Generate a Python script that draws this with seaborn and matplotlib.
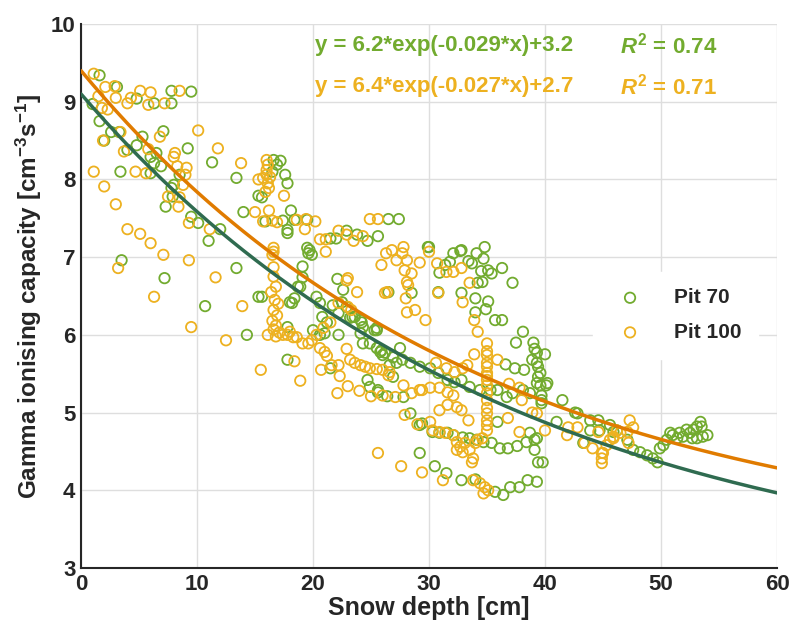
import numpy as np
import pandas as pd
import seaborn as sns
import matplotlib.pyplot as plt

# ---- data ----
pit70_depth = [1.6, 3.1, 7.8, 9.5, 4.8, 6.3, 7.8, 1.0, 1.6, 2.6, 3.3, 7.1, 5.3, 2.0, 4.8, 4.0, 6.5, 9.2, 6.0, 6.3,
               6.9, 3.4, 6.0, 8.5, 11.3, 13.4, 15.3, 8.0, 7.8, 7.9, 7.3, 9.5, 10.1, 12.0, 11.0, 14.0, 3.5, 7.2, 13.4,
               10.7, 14.3, 15.3,
               16.6, 17.2, 16.9, 17.6, 17.8, 16.5, 15.6, 18.1, 15.9, 17.4, 18.4, 19.5, 17.8, 17.8, 21.5, 22.0, 22.9,
               23.8, 24.7, 25.6, 26.5, 27.4, 19.5, 19.7, 19.9, 19.6, 19.1, 19.1, 22.1, 22.6, 15.6, 29.9, 28.5, 26.5,
               18.4, 18.7, 18.2, 20.3, 20.6, 20.8, 21.2, 21.7, 22.2, 22.5, 22.9, 23.2, 23.6, 24.1, 24.3, 25.3, 25.5,
               18.0, 18.9, 17.8, 20.0, 20.6, 21.0, 23.4, 24.2, 24.1, 24.3, 24.9, 25.5, 25.9, 26.2, 26.9, 27.2, 17.8,
               21.5, 24.7, 24.9, 25.6,
               30.0, 32.1, 32.7, 32.8, 34.1, 34.8, 31.4, 31.8, 30.9, 33.4, 33.7, 34.7, 34.5, 35.1, 35.4, 36.3, 34.2,
               34.6, 37.2, 30.8, 32.8, 34.0, 35.1, 34.9, 34.0, 35.7, 36.3, 38.1, 37.5, 39.0, 39.1, 40.0, 39.3, 38.9,
               39.3, 39.4, 39.6, 39.4, 40.2, 39.3, 36.6, 37.4, 38.2,
               22.2, 26.6, 28.4, 29.2, 29.2, 25.5, 26.0, 26.9, 27.7, 28.4, 29.2, 26.4, 27.8, 25.6,
               25.8, 27.5, 30.1, 30.8, 31.6, 32.2, 32.8, 33.5, 34.4, 35.3, 35.9, 36.7, 37.2, 38.1,
               38.7, 39.7, 39.7, 39.7, 40.1, 41.5, 42.8, 43.9, 44.7, 45.6, 46.2, 29.4, 30.3, 30.9, 31.6, 32.1, 32.9,
               33.5, 34.1, 34.7, 35.4, 36.1, 36.8, 37.6, 38.4, 39.1, 39.3, 39.1, 39.8, 39.4, 35.9, 38.7, 30.5, 31.5,
               32.8, 34.0, 35.7, 36.4, 37.0, 37.8, 38.5, 39.3, 39.6,
               49.9, 50.2, 50.5, 50.8, 51.0, 51.4, 51.6, 51.9, 52.2, 52.5, 52.8, 53.1, 53.4, 53.5, 54.0, 53.6, 53.1,
               52.7, 48.2, 48.8, 49.3, 49.7, 47.6, 47.1, 45.9, 44.6, 43.9, 43.3, 42.6, 41.0]
pit70_gamma = [9.34, 9.19, 9.14, 9.13, 9.04, 8.98, 8.98, 8.97, 8.75, 8.61, 8.61, 8.62, 8.55, 8.50, 8.44, 8.38, 8.34,
               8.40, 8.29, 8.21, 8.17, 8.10, 8.08, 8.06, 8.22, 8.02, 7.79, 7.93, 7.89, 7.78, 7.65, 7.52, 7.44, 7.36,
               7.21, 7.58, 6.96, 6.73, 6.86,
               6.37, 6.00, 6.49,
               8.25, 8.24, 8.19, 8.06, 7.95, 8.10, 7.77, 7.60, 7.46, 7.47, 7.48, 7.48, 7.35, 7.31, 7.24, 7.24, 7.34,
               7.29, 7.21, 7.27, 7.49, 7.49, 7.12, 7.09, 7.03, 7.05, 6.88, 6.74, 6.72, 6.58, 6.49, 7.13, 6.54, 6.55,
               6.47, 6.62, 6.41, 6.49, 6.41, 6.23, 6.16, 6.38, 6.28, 6.42, 6.36, 6.22, 6.23, 6.19, 6.10, 6.06, 6.09,
               6.42, 6.62, 6.10, 6.06, 6.00, 6.02, 6.23, 6.16, 6.02, 5.89, 5.89, 6.06, 5.80, 5.77, 5.46, 5.64, 5.68,
               5.57, 5.42, 5.33, 5.29,
               7.13, 7.05, 7.08, 7.09, 7.05, 7.13, 6.90, 6.94, 6.80, 6.95, 6.92, 6.98, 6.82, 6.83, 6.79, 6.86, 6.67,
               6.68, 6.67, 6.55, 6.54, 6.47, 6.43, 6.33, 6.29, 6.19, 6.19, 6.04, 5.90, 5.90, 5.82, 5.75, 5.77, 5.68,
               5.64, 5.59, 5.51, 5.46, 5.38, 5.38, 5.62, 5.57, 5.55,
               6.00, 5.61, 4.99, 4.84, 4.48, 5.83, 5.74, 5.71, 5.68, 5.64, 5.59, 5.21, 5.20, 5.26,
               5.78, 5.83, 5.57, 5.51, 5.42, 5.39, 5.42, 5.33, 5.29, 5.29, 5.29, 5.20, 5.25, 5.29,
               5.25, 5.22, 5.16, 5.12, 5.35, 5.16, 4.99, 4.90, 4.77, 4.84, 4.77, 4.86, 4.75, 4.74, 4.74, 4.71, 4.68,
               4.67, 4.65, 4.62, 4.61, 4.54, 4.54, 4.57, 4.62, 4.65, 4.67, 4.52, 4.36, 4.36, 4.88, 4.74, 4.31, 4.22,
               4.13, 4.14, 3.98, 3.94, 4.04, 4.04, 4.13, 4.11, 5.35,
               4.54, 4.58, 4.65, 4.74, 4.71, 4.67, 4.74, 4.69, 4.78, 4.74, 4.78, 4.82, 4.88, 4.82, 4.71, 4.69, 4.67,
               4.67, 4.49, 4.45, 4.41, 4.36, 4.52, 4.65, 4.75, 4.90, 4.77, 4.61, 5.00, 4.88]

pit100_depth = [1.1, 2.1, 2.9, 5.1, 6.0, 8.5, 1.5, 3.0, 4.0, 4.3, 5.8, 7.2, 1.8, 2.3, 10.1, 6.8, 11.8, 3.4, 1.9, 3.7,
                5.8, 8.1, 8.0, 13.8, 8.3, 9.1, 9.0, 1.1, 4.7, 5.6, 8.8, 2.0, 7.5, 8.5, 8.4, 3.0, 9.3, 11.1, 15.0, 4.0,
                5.1, 6.0, 7.1, 3.2, 9.3, 11.6, 15.3,
                6.3, 13.9, 9.5, 12.5, 15.5,
                16.0, 16.1, 16.0, 16.0, 15.7, 16.3, 16.1, 16.2, 15.9, 17.5, 16.2, 15.7, 16.5, 16.9, 18.6, 19.4, 20.2,
                19.3, 20.6, 21.1, 22.2, 22.9, 23.5, 24.3, 24.9, 25.6, 16.6, 16.6, 16.5, 16.6, 21.1, 23.0, 23.8,
                16.6, 16.8, 16.4, 16.7, 17.0, 16.6, 16.9, 16.5, 16.8, 16.6, 17.1, 16.8,
                26.3, 26.8, 27.8, 27.7, 27.2, 28.1, 25.9, 27.9, 28.5, 29.2, 28.1, 28.2, 28.0, 28.1, 28.8, 29.7, 26.2,
                26.4,
                30.0, 30.7, 31.5, 32.1, 32.8, 33.5, 30.8, 32.9, 33.9, 34.2, 35.0, 35.0, 35.0, 35.0, 35.0, 35.0, 35.0,
                35.0, 35.0, 33.9, 35.9, 33.3, 32.9, 31.5, 32.2, 36.9, 30.6,
                29.4, 30.1, 30.9, 31.6, 32.1, 31.6, 32.4, 30.9, 32.8, 35.0, 35.0, 35.0, 35.0, 35.0, 35.0, 35.0, 38.0,
                37.8, 39.3, 40.0, 41.9, 42.8, 44.1, 44.9, 44.9, 44.9, 45.9, 37.8, 36.8, 33.4, 30.1, 30.3, 30.9, 31.4,
                32.1, 32.4, 32.7, 32.4, 32.9, 33.5, 34.0, 34.2, 34.6, 33.1, 33.7, 33.8, 29.4, 31.2, 33.8, 34.4, 34.8,
                35.1, 34.7,
                16.1, 18.9, 18.4, 18.6, 19.1, 19.6, 19.9, 20.3, 20.6, 21.0, 21.2, 20.7, 21.6, 22.2, 22.3, 22.9, 23.2,
                23.6, 24.1, 24.5, 24.9, 25.5, 26.0, 26.6, 22.1, 23.0, 24.0, 25.0, 26.0, 27.1, 27.8, 28.5, 29.2, 27.9,
                29.0, 25.6, 27.6,
                17.8, 18.3, 17.4, 18.0, 20.9, 21.5, 22.2, 23.0, 23.3, 26.5, 22.9,
                47.3, 47.6, 47.1, 46.5, 45.9, 45.6, 45.3, 45.0, 46.2, 47.2, 43.4, 44.6, 42.0, 38.9]
pit100_gamma = [9.36, 9.19, 9.20, 9.14, 9.12, 9.14, 9.07, 9.05, 8.98, 9.05, 8.96, 8.98, 8.92, 8.90, 8.63, 8.55, 8.40,
                8.61, 8.50, 8.36, 8.39, 8.34, 8.29, 8.21, 8.17, 8.15, 8.06, 8.10, 8.10, 8.08, 7.93, 7.91, 7.78, 7.77,
                7.65, 7.68, 7.44, 7.36, 7.58, 7.36, 7.30, 7.18, 7.03, 6.86, 6.96, 6.74, 8.00,
                6.49, 6.37, 6.10, 5.93, 5.55,
                8.25, 8.19, 8.12, 8.06, 8.02, 8.03, 7.95, 7.89, 7.84, 7.79, 7.60, 7.46, 7.47, 7.45, 7.48, 7.49, 7.46,
                7.36, 7.23, 7.23, 7.34, 7.29, 7.21, 7.27, 7.49, 7.49, 7.12, 7.07, 7.03, 6.87, 7.07, 6.73, 6.55,
                6.75, 6.62, 6.55, 6.45, 6.40, 6.32, 6.25, 6.18, 6.12, 6.07, 6.03, 5.98,
                7.05, 7.09, 7.13, 7.05, 6.96, 6.96, 6.90, 6.83, 6.79, 6.93, 6.68, 6.64, 6.47, 6.29, 6.32, 6.19, 6.54,
                6.55,
                7.07, 6.92, 6.81, 6.81, 6.86, 6.67, 6.54, 6.42, 6.19, 6.04, 5.89, 5.79, 5.74, 5.64, 5.59, 5.51, 5.47,
                5.42, 5.35, 5.75, 5.68, 5.61, 5.57, 5.57, 5.52, 5.37, 5.64,
                5.29, 5.32, 5.32, 5.26, 5.22, 5.10, 5.07, 5.03, 5.03, 5.25, 5.16, 5.06, 4.99, 4.90, 4.84, 4.77, 5.16,
                5.32, 4.99, 4.77, 4.71, 4.81, 4.54, 4.48, 4.41, 4.35, 4.67, 4.75, 4.93, 4.90, 4.88, 4.77, 4.75, 4.74,
                4.71, 4.62, 4.56, 4.52, 4.49, 4.52, 4.61, 4.65, 4.67, 4.61, 4.36, 4.41, 4.23, 4.13, 4.13, 4.09, 4.04,
                4.00, 3.96,
                6.00, 5.41, 5.66, 5.97, 5.89, 5.89, 5.93, 6.00, 5.83, 5.78, 5.73, 5.55, 5.61, 5.61, 5.47, 5.82, 5.68,
                5.64, 5.61, 5.59, 5.57, 5.56, 5.55, 5.52, 5.25, 5.34, 5.28, 5.21, 5.22, 5.20, 5.35, 5.25, 5.29, 4.97,
                4.85, 4.48, 4.31,
                6.00, 5.97, 6.00, 6.04, 6.09, 6.16, 6.41, 6.36, 6.32, 5.48, 6.70,
                4.90, 4.81, 4.75, 4.74, 4.69, 4.65, 4.58, 4.48, 4.77, 4.61, 4.61, 4.75, 4.81, 5.00]

# exponential fit parameters a*exp(b*x)+c as drawn by the two curves
fit_dark = [6.4, -0.027, 2.7]
fit_orange = [6.2, -0.029, 3.2]
eq_labels = ["y = 6.2*exp(-0.029*x)+3.2", "y = 6.4*exp(-0.027*x)+2.7"]
r2_labels = ["0.74", "0.71"]

GREEN = "#72ab2f"
YELLOW = "#edb120"
DARK = "#2f6b50"
ORANGE = "#e07b00"

sns.set_style("white")
plt.rcParams['font.family'] = ['Liberation Sans', 'DejaVu Sans']
plt.rcParams['font.weight'] = 'bold'
plt.rcParams['mathtext.fontset'] = 'custom'
plt.rcParams['mathtext.rm'] = 'Liberation Sans:bold'
plt.rcParams['mathtext.it'] = 'Liberation Sans:bold:italic'
plt.rcParams['mathtext.bf'] = 'Liberation Sans:bold'

fig = plt.figure(figsize=(7.9, 6.31), dpi=100)
ax = fig.add_axes([81 / 790, 1 - 568 / 631, 696 / 790, 544 / 631])

df70 = pd.DataFrame({'depth': pit70_depth, 'gamma': pit70_gamma})
df100 = pd.DataFrame({'depth': pit100_depth, 'gamma': pit100_gamma})

sns.scatterplot(data=df70, x='depth', y='gamma', ax=ax, marker='o', s=56,
                facecolor='none', edgecolor=GREEN, linewidth=1.3, label='Pit 70', zorder=3)
sns.scatterplot(data=df100, x='depth', y='gamma', ax=ax, marker='o', s=56,
                facecolor='none', edgecolor=YELLOW, linewidth=1.3, label='Pit 100', zorder=3)

xfit = np.linspace(0, 60, 300)
curves = pd.DataFrame({
    'x': xfit,
    'dark': fit_dark[0] * np.exp(fit_dark[1] * xfit) + fit_dark[2],
    'orange': fit_orange[0] * np.exp(fit_orange[1] * xfit) + fit_orange[2],
})
sns.lineplot(data=curves, x='x', y='dark', ax=ax, color=DARK, linewidth=2.5, zorder=4, legend=False)
sns.lineplot(data=curves, x='x', y='orange', ax=ax, color=ORANGE, linewidth=2.5, zorder=4, legend=False)

ax.text(20.2, 9.72, eq_labels[0], color=GREEN, fontsize=16, fontweight='bold', va='center')
ax.text(20.2, 9.2, eq_labels[1], color=YELLOW, fontsize=16, fontweight='bold', va='center')
ax.text(46.5, 9.72, r'$\mathit{R}^2$ = ' + r2_labels[0], color=GREEN, fontsize=16, fontweight='bold', va='center')
ax.text(46.5, 9.2, r'$\mathit{R}^2$ = ' + r2_labels[1], color=YELLOW, fontsize=16, fontweight='bold', va='center')

ax.set_xlim(0, 60)
ax.set_ylim(3, 10)
ax.set_xticks(range(0, 61, 10))
ax.set_yticks(range(3, 11))
ax.grid(True, color='#dedede', linewidth=1)
ax.set_axisbelow(True)
for side in ['top', 'right']:
    ax.spines[side].set_visible(False)
for side in ['left', 'bottom']:
    ax.spines[side].set_color('#262626')
    ax.spines[side].set_linewidth(1.5)
ax.tick_params(direction='in', length=6, width=1.3, colors='#262626', labelsize=16, pad=4)
for lab in ax.get_xticklabels() + ax.get_yticklabels():
    lab.set_fontweight('bold')

ax.set_xlabel('Snow depth [cm]', fontsize=18, fontweight='bold', labelpad=1)
ax.set_ylabel(r'Gamma ionising capacity [cm$^{-3}$s$^{-1}$]', fontsize=17.5, fontweight='bold', labelpad=5)

leg = ax.legend(loc='center left', bbox_to_anchor=(0.72, 0.465), frameon=True, fancybox=False,
                edgecolor='white', framealpha=1, fontsize=15, handletextpad=1.1, labelspacing=0.75,
                borderpad=0.8, markerscale=1.0)
for t in leg.get_texts():
    t.set_fontweight('bold')

fig.savefig('out.png', dpi=100)
